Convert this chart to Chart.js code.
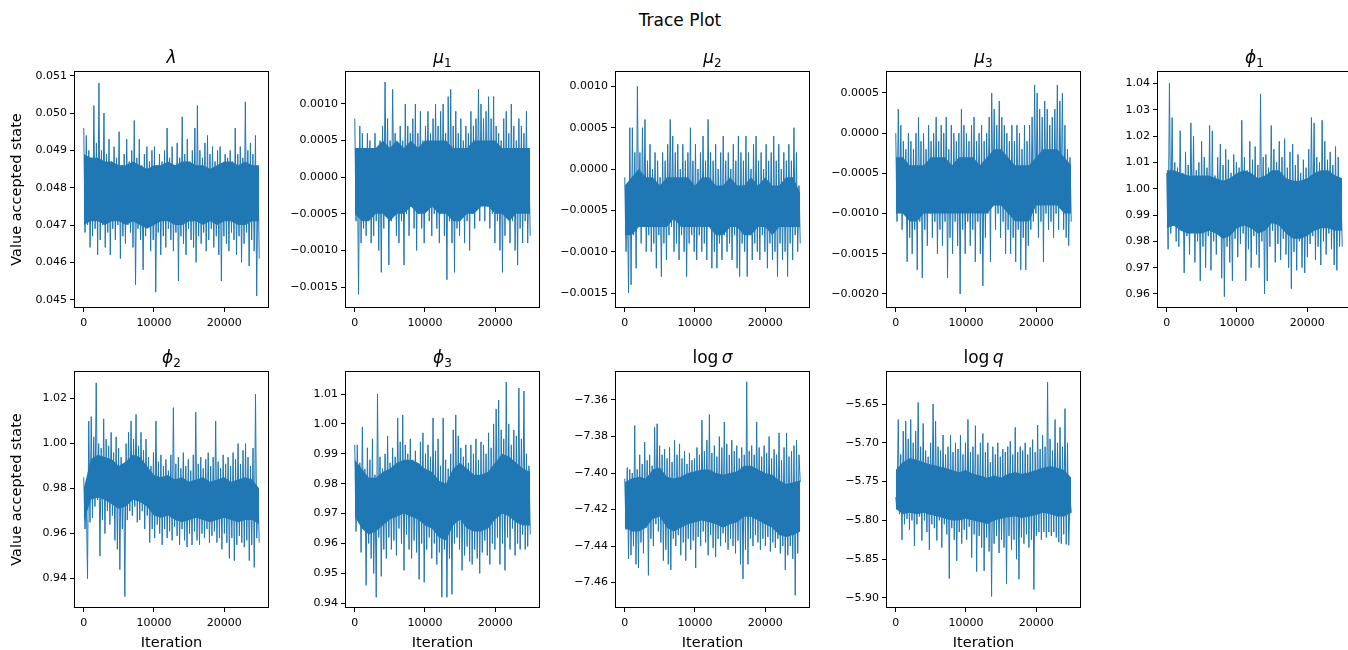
<!DOCTYPE html>
<html>
<head>
<meta charset="utf-8">
<title>Trace Plot</title>
<script src="https://cdn.jsdelivr.net/npm/chart.js@4.4.0/dist/chart.umd.min.js"></script>
<style>
  body { margin: 0; background: #fff; overflow: hidden; }
  #fig { position: relative; width: 1348px; height: 650px; overflow: hidden; background: #fff; }
  #fig canvas { position: absolute; }
  .suptitle {
    position: absolute; left: 0; top: 10px; width: 1360px;
    text-align: center; font: 17px "DejaVu Sans"; line-height: 20px; color: #000;
  }
</style>
</head>
<body>
<div id="fig"><div class="suptitle">Trace Plot</div></div>
<script>
// chain length and iteration axis ticks
const nIter = 25000;
const iterTicks = [0, 10000, 20000];

// sampled traces, alternating upper / lower excursions along the chain
const lambdaTrace = [
  0.0496, 0.0468, 0.0494, 0.0470, 0.0490, 0.0464, 0.0488, 0.0467, 0.0502, 0.0469,
  0.0492, 0.0462, 0.0508, 0.0466, 0.0490, 0.0470, 0.0500, 0.0464, 0.0489, 0.0468,
  0.0493, 0.0462, 0.0487, 0.0469, 0.0491, 0.0466, 0.0488, 0.0470, 0.0495, 0.0461,
  0.0486, 0.0467, 0.0489, 0.0465, 0.0493, 0.0470, 0.0487, 0.0468, 0.0490, 0.0464,
  0.0498, 0.0454, 0.0488, 0.0469, 0.0493, 0.0466, 0.0486, 0.0458, 0.0489, 0.0467,
  0.0491, 0.0470, 0.0487, 0.0463, 0.0490, 0.0466, 0.0491, 0.0452, 0.0486, 0.0468,
  0.0489, 0.0462, 0.0487, 0.0467, 0.0490, 0.0464, 0.0496, 0.0469, 0.0488, 0.0466,
  0.0491, 0.0463, 0.0486, 0.0468, 0.0492, 0.0455, 0.0488, 0.0467, 0.0499, 0.0465,
  0.0489, 0.0462, 0.0493, 0.0469, 0.0487, 0.0466, 0.0490, 0.0464, 0.0496, 0.0460,
  0.0502, 0.0467, 0.0490, 0.0465, 0.0488, 0.0468, 0.0492, 0.0463, 0.0494, 0.0466,
  0.0489, 0.0469, 0.0491, 0.0464, 0.0487, 0.0467, 0.0490, 0.0462, 0.0491, 0.0455,
  0.0486, 0.0467, 0.0489, 0.0465, 0.0488, 0.0463, 0.0490, 0.0468, 0.0487, 0.0466,
  0.0496, 0.0462, 0.0489, 0.0467, 0.0491, 0.0460, 0.0488, 0.0465, 0.0503, 0.0468,
  0.0490, 0.0459, 0.0492, 0.0466, 0.0489, 0.0463, 0.0494, 0.0451, 0.0485, 0.0461
];
const mu1Trace = [
  0.0008, -0.0006, 0.0003, -0.0016, 0.0007, -0.0009, 0.0006, -0.0007, 0.0004, -0.0008,
  0.0006, -0.0005, 0.0005, -0.0009, 0.0003, -0.0008, 0.0006, -0.0006, 0.0004, -0.0010,
  0.0005, -0.0013, 0.0007, -0.0007, 0.0013, -0.0004, 0.0008, -0.0012, 0.0005, -0.0006,
  0.0012, -0.0003, 0.0006, -0.0008, 0.0004, -0.0009, 0.0007, -0.0006, 0.0005, -0.0012,
  0.0010, -0.0005, 0.0007, -0.0008, 0.0006, -0.0004, 0.0008, -0.0007, 0.0010, -0.0010,
  0.0006, -0.0005, 0.0009, -0.0007, 0.0005, -0.0009, 0.0007, -0.0004, 0.0009, -0.0006,
  0.0006, -0.0008, 0.0008, -0.0005, 0.0010, -0.0007, 0.0007, -0.0009, 0.0009, -0.0004,
  0.0010, -0.0008, 0.0006, -0.0014, 0.0011, -0.0006, 0.0012, -0.0009, 0.0007, -0.0013,
  0.0009, -0.0007, 0.0006, -0.0008, 0.0008, -0.0005, 0.0005, -0.0009, 0.0007, -0.0006,
  0.0006, -0.0010, 0.0009, -0.0005, 0.0007, -0.0007, 0.0008, -0.0004, 0.0012, -0.0006,
  0.0010, -0.0003, 0.0008, -0.0006, 0.0009, -0.0004, 0.0011, -0.0007, 0.0008, -0.0005,
  0.0011, -0.0009, 0.0007, -0.0006, 0.0006, -0.0010, 0.0005, -0.0013, 0.0008, -0.0008,
  0.0009, -0.0005, 0.0006, -0.0009, 0.0010, -0.0006, 0.0007, -0.0010, 0.0005, -0.0012,
  0.0008, -0.0007, 0.0007, -0.0009, 0.0006, -0.0006, 0.0009, -0.0009, 0.0001, -0.0008
];
const mu2Trace = [
  -0.0001, -0.0010, -0.0003, -0.0015, 0.0005, -0.0014, 0.0005, -0.0008, 0.0002, -0.0012,
  0.0010, -0.0006, 0.0002, -0.0009, 0.0005, -0.0007, 0.0006, -0.0010, 0.0001, -0.0008,
  0.0003, -0.0010, 0.0000, -0.0009, 0.0002, -0.0012, 0.0001, -0.0008, -0.0001, -0.0013,
  0.0002, -0.0009, 0.0001, -0.0011, 0.0003, -0.0008, 0.0006, -0.0007, 0.0004, -0.0010,
  0.0002, -0.0009, 0.0003, -0.0011, 0.0000, -0.0008, 0.0003, -0.0010, 0.0001, -0.0013,
  0.0002, -0.0009, 0.0005, -0.0008, 0.0001, -0.0010, 0.0003, -0.0011, 0.0000, -0.0008,
  0.0002, -0.0010, 0.0004, -0.0009, 0.0001, -0.0011, 0.0006, -0.0007, 0.0002, -0.0012,
  0.0001, -0.0010, 0.0003, -0.0012, 0.0000, -0.0009, 0.0002, -0.0011, 0.0004, -0.0008,
  0.0001, -0.0010, 0.0002, -0.0009, 0.0000, -0.0011, 0.0003, -0.0008, 0.0001, -0.0012,
  0.0004, -0.0013, 0.0002, -0.0009, 0.0001, -0.0010, 0.0004, -0.0013, 0.0002, -0.0008,
  0.0000, -0.0011, 0.0003, -0.0009, 0.0004, -0.0010, 0.0001, -0.0011, 0.0002, -0.0008,
  0.0000, -0.0010, 0.0003, -0.0012, 0.0001, -0.0009, 0.0002, -0.0011, 0.0004, -0.0010,
  0.0001, -0.0013, 0.0003, -0.0009, 0.0000, -0.0011, 0.0002, -0.0010, 0.0001, -0.0013,
  0.0003, -0.0009, 0.0001, -0.0011, 0.0005, -0.0008, 0.0002, -0.0010, -0.0002, -0.0009
];
const mu3Trace = [
  0.0000, -0.0011, 0.0003, -0.0009, 0.0001, -0.0012, -0.0001, -0.0010, -0.0002, -0.0016,
  0.0000, -0.0013, -0.0001, -0.0015, -0.0002, -0.0012, 0.0000, -0.0017, 0.0002, -0.0011,
  -0.0001, -0.0018, 0.0000, -0.0012, -0.0002, -0.0014, 0.0001, -0.0010, -0.0001, -0.0013,
  0.0000, -0.0011, 0.0002, -0.0015, -0.0001, -0.0012, 0.0001, -0.0014, 0.0000, -0.0011,
  0.0002, -0.0018, -0.0002, -0.0013, 0.0001, -0.0015, 0.0000, -0.0011, -0.0001, -0.0014,
  0.0000, -0.0020, 0.0003, -0.0012, 0.0001, -0.0015, 0.0000, -0.0011, -0.0001, -0.0014,
  0.0001, -0.0012, 0.0002, -0.0016, -0.0001, -0.0011, 0.0000, -0.0015, 0.0001, -0.0019,
  -0.0001, -0.0013, 0.0000, -0.0010, 0.0002, -0.0016, 0.0005, -0.0009, 0.0003, -0.0012,
  0.0001, -0.0010, 0.0004, -0.0013, 0.0002, -0.0011, 0.0001, -0.0015, 0.0000, -0.0012,
  -0.0001, -0.0015, 0.0001, -0.0013, -0.0001, -0.0016, 0.0001, -0.0012, 0.0000, -0.0017,
  -0.0002, -0.0013, 0.0001, -0.0017, -0.0001, -0.0014, 0.0001, -0.0012, 0.0002, -0.0011,
  0.0006, -0.0010, 0.0005, -0.0013, 0.0003, -0.0011, 0.0002, -0.0016, 0.0004, -0.0010,
  0.0003, -0.0012, 0.0001, -0.0011, 0.0002, -0.0013, 0.0003, -0.0010, 0.0006, -0.0012,
  0.0004, -0.0009, 0.0005, -0.0012, 0.0001, -0.0013, -0.0002, -0.0014, -0.0003, -0.0011
];
const phi1Trace = [
  1.006, 0.977, 1.040, 0.983, 1.027, 0.986, 1.010, 0.980, 1.008, 0.978,
  1.022, 0.984, 1.006, 0.968, 1.014, 0.982, 1.009, 0.975, 1.025, 0.987,
  1.020, 0.972, 1.007, 0.980, 1.010, 0.965, 1.018, 0.978, 1.012, 0.970,
  1.008, 0.982, 1.024, 0.969, 1.022, 0.980, 1.005, 0.975, 1.012, 0.985,
  1.017, 0.966, 1.009, 0.959, 1.015, 0.978, 1.011, 0.972, 1.006, 0.965,
  1.013, 0.981, 1.010, 0.974, 1.008, 0.979, 1.026, 0.983, 1.012, 0.965,
  1.007, 0.977, 1.018, 0.970, 1.011, 0.982, 1.016, 0.975, 1.009, 0.970,
  1.036, 0.980, 1.012, 0.960, 1.013, 0.965, 1.008, 0.978, 1.024, 0.984,
  1.015, 0.972, 1.010, 0.979, 1.018, 0.973, 1.012, 0.981, 1.019, 0.975,
  1.008, 0.970, 1.014, 0.962, 1.017, 0.976, 1.009, 0.969, 1.013, 0.980,
  1.006, 0.970, 1.011, 0.968, 1.008, 0.974, 1.015, 0.979, 1.027, 0.982,
  1.025, 0.973, 1.012, 0.978, 1.010, 0.971, 1.026, 0.980, 1.018, 0.975,
  1.011, 0.983, 1.014, 0.977, 1.009, 0.971, 1.016, 0.969, 1.012, 0.978,
  1.000, 0.978
];
const phi2Trace = [
  0.985, 0.962, 0.978, 0.940, 1.010, 0.965, 1.012, 0.967, 1.003, 0.972,
  1.027, 0.975, 1.000, 0.950, 0.998, 0.966, 1.011, 0.960, 1.002, 0.970,
  0.999, 0.964, 1.005, 0.968, 0.996, 0.957, 1.003, 0.953, 0.998, 0.944,
  0.994, 0.962, 0.990, 0.932, 1.000, 0.966, 1.005, 0.970, 1.010, 0.968,
  1.002, 0.972, 1.013, 0.965, 0.999, 0.966, 1.005, 0.970, 0.997, 0.962,
  1.002, 0.968, 0.994, 0.956, 0.990, 0.962, 0.996, 0.958, 1.010, 0.964,
  0.992, 0.960, 0.995, 0.955, 0.990, 0.962, 0.993, 0.958, 0.988, 0.961,
  0.995, 0.957, 1.016, 0.963, 0.991, 0.959, 0.994, 0.955, 0.989, 0.962,
  0.996, 0.957, 0.990, 0.954, 0.993, 0.960, 0.988, 0.955, 0.995, 0.961,
  1.014, 0.957, 0.991, 0.955, 0.994, 0.960, 0.989, 0.958, 0.993, 0.962,
  0.996, 0.956, 0.990, 0.959, 0.994, 0.961, 1.010, 0.956, 0.992, 0.958,
  0.989, 0.953, 0.995, 0.960, 0.991, 0.956, 0.994, 0.949, 0.990, 0.958,
  0.996, 0.948, 0.993, 0.955, 1.000, 0.959, 0.991, 0.956, 0.997, 0.954,
  1.000, 0.957, 0.994, 0.948, 0.990, 0.955, 0.998, 0.945, 1.022, 0.958,
  0.978, 0.956
];
const phi3Trace = [
  0.993, 0.964, 0.993, 0.968, 0.987, 0.957, 0.999, 0.965, 0.985, 0.946,
  0.992, 0.960, 0.988, 0.955, 0.995, 0.950, 0.983, 0.942, 1.010, 0.962,
  0.989, 0.949, 0.985, 0.958, 0.990, 0.955, 0.996, 0.962, 0.987, 0.958,
  0.992, 0.961, 0.989, 0.956, 1.002, 0.965, 0.994, 0.960, 1.003, 0.951,
  0.993, 0.963, 0.990, 0.958, 0.995, 0.955, 0.988, 0.961, 0.991, 0.957,
  0.986, 0.948, 0.994, 0.960, 0.997, 0.947, 0.990, 0.958, 0.993, 0.962,
  0.989, 0.955, 1.002, 0.960, 0.991, 0.953, 0.995, 0.957, 0.986, 0.942,
  1.002, 0.958, 0.988, 0.942, 0.985, 0.955, 0.990, 0.943, 0.998, 0.960,
  1.003, 0.962, 0.996, 0.958, 0.992, 0.951, 0.989, 0.956, 0.993, 0.959,
  0.987, 0.954, 0.993, 0.953, 0.990, 0.958, 0.995, 0.955, 0.988, 0.950,
  0.994, 0.957, 0.993, 0.961, 0.990, 0.956, 0.997, 0.953, 0.992, 0.960,
  1.000, 0.958, 1.005, 0.962, 1.008, 0.953, 0.998, 0.960, 0.995, 0.951,
  1.014, 0.962, 1.000, 0.958, 0.993, 0.965, 0.998, 0.956, 0.996, 0.960,
  1.012, 0.958, 0.995, 0.963, 1.011, 0.958, 0.990, 0.959, 0.986, 0.963
];
const logSigmaTrace = [
  -7.403, -7.431, -7.397, -7.447, -7.398, -7.445, -7.400, -7.440, -7.374, -7.450,
  -7.398, -7.452, -7.390, -7.438, -7.395, -7.444, -7.383, -7.430, -7.393, -7.456,
  -7.390, -7.436, -7.396, -7.440, -7.375, -7.428, -7.373, -7.432, -7.385, -7.438,
  -7.390, -7.448, -7.387, -7.442, -7.392, -7.450, -7.386, -7.453, -7.394, -7.436,
  -7.382, -7.440, -7.390, -7.434, -7.384, -7.445, -7.392, -7.438, -7.388, -7.448,
  -7.395, -7.436, -7.389, -7.442, -7.393, -7.437, -7.392, -7.452, -7.386, -7.435,
  -7.390, -7.440, -7.371, -7.432, -7.388, -7.438, -7.382, -7.445, -7.368, -7.434,
  -7.389, -7.441, -7.385, -7.446, -7.391, -7.436, -7.380, -7.440, -7.386, -7.433,
  -7.372, -7.438, -7.384, -7.442, -7.390, -7.436, -7.382, -7.440, -7.388, -7.444,
  -7.385, -7.437, -7.392, -7.450, -7.386, -7.458, -7.390, -7.442, -7.350, -7.450,
  -7.388, -7.436, -7.385, -7.440, -7.390, -7.434, -7.372, -7.438, -7.386, -7.442,
  -7.391, -7.436, -7.385, -7.440, -7.389, -7.435, -7.380, -7.443, -7.392, -7.438,
  -7.387, -7.441, -7.390, -7.436, -7.378, -7.444, -7.393, -7.440, -7.386, -7.453,
  -7.378, -7.445, -7.391, -7.440, -7.388, -7.447, -7.385, -7.467, -7.382, -7.444,
  -7.390, -7.405
];
const logQTrace = [
  -5.770, -5.786, -5.670, -5.792, -5.715, -5.825, -5.685, -5.805, -5.672, -5.798,
  -5.695, -5.812, -5.670, -5.800, -5.700, -5.833, -5.685, -5.805, -5.648, -5.795,
  -5.705, -5.826, -5.675, -5.800, -5.710, -5.815, -5.718, -5.838, -5.700, -5.805,
  -5.650, -5.810, -5.672, -5.826, -5.705, -5.800, -5.710, -5.835, -5.690, -5.805,
  -5.715, -5.818, -5.705, -5.875, -5.690, -5.810, -5.712, -5.825, -5.700, -5.852,
  -5.708, -5.815, -5.690, -5.830, -5.715, -5.812, -5.700, -5.825, -5.670, -5.808,
  -5.712, -5.848, -5.705, -5.818, -5.678, -5.866, -5.715, -5.820, -5.700, -5.835,
  -5.688, -5.865, -5.712, -5.822, -5.700, -5.840, -5.725, -5.898, -5.705, -5.830,
  -5.715, -5.820, -5.700, -5.842, -5.718, -5.825, -5.708, -5.835, -5.712, -5.882,
  -5.705, -5.820, -5.698, -5.838, -5.715, -5.825, -5.680, -5.850, -5.712, -5.876,
  -5.705, -5.822, -5.710, -5.830, -5.700, -5.818, -5.715, -5.835, -5.706, -5.825,
  -5.696, -5.889, -5.712, -5.820, -5.677, -5.815, -5.708, -5.825, -5.690, -5.815,
  -5.705, -5.822, -5.622, -5.815, -5.695, -5.820, -5.710, -5.815, -5.670, -5.822,
  -5.700, -5.828, -5.680, -5.830, -5.705, -5.818, -5.656, -5.831, -5.700, -5.832,
  -5.770, -5.790
];

// densely visited range of each chain, every 1000 iterations (upper, lower)
const lambdaCoreHi = [0.0489, 0.0488, 0.0488, 0.0487, 0.0487, 0.0486, 0.0486, 0.0487, 0.0486, 0.0485, 0.0486, 0.0486, 0.0487,
  0.0486, 0.0487, 0.0487, 0.0486, 0.0486, 0.0485, 0.0486, 0.0487, 0.0487, 0.0486, 0.0487, 0.0486, 0.0486];
const lambdaCoreLo = [0.0470, 0.0471, 0.0471, 0.0470, 0.0471, 0.0471, 0.0470, 0.0471, 0.0470, 0.0469, 0.0470, 0.0471, 0.0471,
  0.0470, 0.0470, 0.0471, 0.0471, 0.0470, 0.0471, 0.0470, 0.0471, 0.0471, 0.0470, 0.0470, 0.0471, 0.0471];
const mu1CoreHi = [0.0004, 0.0004, 0.0004, 0.0004, 0.0005, 0.0004, 0.0005, 0.0004, 0.0005, 0.0004, 0.0005, 0.0005, 0.0005,
  0.0005, 0.0004, 0.0004, 0.0004, 0.0005, 0.0005, 0.0005, 0.0005, 0.0004, 0.0004, 0.0004, 0.0004, 0.0004];
const mu1CoreLo = [-0.0005, -0.0006, -0.0006, -0.0005, -0.0005, -0.0006, -0.0005, -0.0005, -0.0004, -0.0005, -0.0005, -0.0004, -0.0005,
  -0.0005, -0.0006, -0.0006, -0.0005, -0.0005, -0.0004, -0.0004, -0.0005, -0.0005, -0.0006, -0.0005, -0.0005, -0.0005];
const mu2CoreHi = [-0.0002, -0.0001, 0.0000, -0.0001, -0.0001, -0.0002, -0.0001, -0.0001, -0.0001, -0.0001, -0.0002, -0.0001, -0.0001,
  -0.0002, -0.0002, -0.0001, -0.0002, -0.0002, -0.0001, -0.0002, -0.0001, -0.0002, -0.0002, -0.0001, -0.0001, -0.0003];
const mu2CoreLo = [-0.0008, -0.0008, -0.0007, -0.0007, -0.0007, -0.0007, -0.0007, -0.0006, -0.0007, -0.0007, -0.0007, -0.0007, -0.0007,
  -0.0008, -0.0008, -0.0007, -0.0007, -0.0008, -0.0008, -0.0007, -0.0007, -0.0008, -0.0007, -0.0007, -0.0007, -0.0007];
const mu3CoreHi = [-0.0003, -0.0003, -0.0004, -0.0004, -0.0004, -0.0003, -0.0003, -0.0003, -0.0004, -0.0003, -0.0003, -0.0003, -0.0004,
  -0.0003, -0.0002, -0.0002, -0.0003, -0.0004, -0.0004, -0.0004, -0.0003, -0.0002, -0.0002, -0.0002, -0.0003, -0.0004];
const mu3CoreLo = [-0.0010, -0.0010, -0.0011, -0.0011, -0.0010, -0.0010, -0.0010, -0.0010, -0.0010, -0.0010, -0.0010, -0.0010, -0.0010,
  -0.0010, -0.0009, -0.0009, -0.0010, -0.0011, -0.0011, -0.0011, -0.0009, -0.0009, -0.0009, -0.0009, -0.0010, -0.0010];
const phi1CoreHi = [1.007, 1.007, 1.006, 1.005, 1.005, 1.005, 1.005, 1.004, 1.003, 1.004, 1.006, 1.007, 1.006,
  1.004, 1.005, 1.007, 1.007, 1.004, 1.003, 1.003, 1.004, 1.006, 1.007, 1.007, 1.005, 1.004];
const phi1CoreLo = [0.985, 0.986, 0.984, 0.983, 0.983, 0.983, 0.984, 0.983, 0.981, 0.982, 0.985, 0.986, 0.985,
  0.983, 0.984, 0.987, 0.986, 0.983, 0.981, 0.981, 0.982, 0.984, 0.985, 0.985, 0.984, 0.984];
const phi2CoreHi = [0.980, 0.993, 0.995, 0.994, 0.993, 0.990, 0.992, 0.995, 0.994, 0.990, 0.986, 0.985, 0.986,
  0.984, 0.985, 0.983, 0.984, 0.985, 0.983, 0.984, 0.985, 0.983, 0.984, 0.985, 0.984, 0.980];
const phi2CoreLo = [0.965, 0.975, 0.976, 0.975, 0.973, 0.971, 0.972, 0.975, 0.974, 0.972, 0.968, 0.967, 0.968,
  0.966, 0.965, 0.966, 0.967, 0.966, 0.965, 0.966, 0.967, 0.966, 0.965, 0.966, 0.966, 0.964];
const phi3CoreHi = [0.988, 0.985, 0.982, 0.982, 0.984, 0.985, 0.987, 0.988, 0.988, 0.987, 0.985, 0.984, 0.981,
  0.980, 0.985, 0.987, 0.985, 0.983, 0.983, 0.984, 0.987, 0.990, 0.989, 0.987, 0.985, 0.984];
const phi3CoreLo = [0.969, 0.965, 0.963, 0.964, 0.966, 0.968, 0.969, 0.970, 0.969, 0.968, 0.966, 0.965, 0.962,
  0.961, 0.966, 0.968, 0.965, 0.964, 0.964, 0.965, 0.968, 0.970, 0.969, 0.967, 0.966, 0.966];
const logSigmaCoreHi = [-7.405, -7.403, -7.402, -7.403, -7.398, -7.397, -7.402, -7.403, -7.402, -7.400, -7.399, -7.398, -7.398,
  -7.400, -7.401, -7.400, -7.399, -7.396, -7.396, -7.398, -7.400, -7.401, -7.404, -7.406, -7.405, -7.404];
const logSigmaCoreLo = [-7.430, -7.432, -7.432, -7.430, -7.425, -7.424, -7.430, -7.432, -7.430, -7.428, -7.427, -7.426, -7.427,
  -7.428, -7.430, -7.428, -7.427, -7.424, -7.424, -7.426, -7.428, -7.430, -7.434, -7.435, -7.434, -7.432];
const logQCoreHi = [-5.735, -5.725, -5.720, -5.722, -5.725, -5.728, -5.730, -5.732, -5.735, -5.738, -5.735, -5.740, -5.742,
  -5.745, -5.742, -5.745, -5.740, -5.738, -5.740, -5.738, -5.735, -5.732, -5.730, -5.732, -5.735, -5.745];
const logQCoreLo = [-5.785, -5.792, -5.790, -5.792, -5.790, -5.793, -5.795, -5.798, -5.800, -5.800, -5.798, -5.800, -5.802,
  -5.805, -5.800, -5.798, -5.796, -5.795, -5.797, -5.795, -5.793, -5.790, -5.792, -5.795, -5.795, -5.790];

// value axis ticks per parameter
const lambdaTicks = [0.045, 0.046, 0.047, 0.048, 0.049, 0.050, 0.051];
const mu1Ticks = [-0.0015, -0.0010, -0.0005, 0.0, 0.0005, 0.0010];
const mu2Ticks = [-0.0015, -0.0010, -0.0005, 0.0, 0.0005, 0.0010];
const mu3Ticks = [-0.0020, -0.0015, -0.0010, -0.0005, 0.0, 0.0005];
const phi1Ticks = [0.96, 0.97, 0.98, 0.99, 1.00, 1.01, 1.02, 1.03, 1.04];
const phi2Ticks = [0.94, 0.96, 0.98, 1.00, 1.02];
const phi3Ticks = [0.94, 0.95, 0.96, 0.97, 0.98, 0.99, 1.00, 1.01];
const logSigmaTicks = [-7.46, -7.44, -7.42, -7.40, -7.38, -7.36];
const logQTicks = [-5.90, -5.85, -5.80, -5.75, -5.70, -5.65];

// subplot geometry (pixels): plot box size, and room around it on each canvas
const AX_W = 193, AX_H = 235;
const PAD_L = 75, PAD_T = 40, PAD_R = 6, PAD_B = 45;
const LINE_COLOR = '#1f77b4';

const panels = [
  { trace: lambdaTrace, hi: lambdaCoreHi, lo: lambdaCoreLo, ticks: lambdaTicks, min: 0.044804, max: 0.051099, dp: 3,
    title: [['λ', 'i']], left: 75, top: 72, ylabel: true },
  { trace: mu1Trace, hi: mu1CoreHi, lo: mu1CoreLo, ticks: mu1Ticks, min: -0.001773, max: 0.001437, dp: 4,
    title: [['μ', 'i'], ['1', 's']], left: 346, top: 72 },
  { trace: mu2Trace, hi: mu2CoreHi, lo: mu2CoreLo, ticks: mu2Ticks, min: -0.001669, max: 0.001174, dp: 4,
    title: [['μ', 'i'], ['2', 's']], left: 616, top: 72 },
  { trace: mu3Trace, hi: mu3CoreHi, lo: mu3CoreLo, ticks: mu3Ticks, min: -0.002162, max: 0.000761, dp: 4,
    title: [['μ', 'i'], ['3', 's']], left: 887, top: 72 },
  { trace: phi1Trace, hi: phi1CoreHi, lo: phi1CoreLo, ticks: phi1Ticks, min: 0.95506, max: 1.04433, dp: 2,
    title: [['ϕ', 'i'], ['1', 's']], left: 1158, top: 72 },
  { trace: phi2Trace, hi: phi2CoreHi, lo: phi2CoreLo, ticks: phi2Ticks, min: 0.92738, max: 1.03182, dp: 2,
    title: [['ϕ', 'i'], ['2', 's']], left: 75, top: 372, ylabel: true, xlabel: true },
  { trace: phi3Trace, hi: phi3CoreHi, lo: phi3CoreLo, ticks: phi3Ticks, min: 0.93876, max: 1.01736, dp: 2,
    title: [['ϕ', 'i'], ['3', 's']], left: 346, top: 372, xlabel: true },
  { trace: logSigmaTrace, hi: logSigmaCoreHi, lo: logSigmaCoreLo, ticks: logSigmaTicks, min: -7.47336, max: -7.34467, dp: 2,
    title: [['log', 'r'], ['\u2009', 'r'], ['σ', 'i']], left: 616, top: 372, xlabel: true },
  { trace: logQTrace, hi: logQCoreHi, lo: logQCoreLo, ticks: logQTicks, min: -5.9116, max: -5.60876, dp: 2,
    title: [['log', 'r'], ['\u2009', 'r'], ['q', 'i']], left: 887, top: 372, xlabel: true }
];

Chart.defaults.font.family = '"DejaVu Sans", sans-serif';
Chart.defaults.color = '#000';

const FONT = '"DejaVu Sans", sans-serif';
const titleFonts = { i: 'italic 17px ' + FONT, r: '17px ' + FONT, s: '12px ' + FONT };

function fmtTick(v, dp) {
  return v.toFixed(dp).replace('-', '\u2212');
}

function toPoints(values) {
  const step = nIter / (values.length - 1);
  return values.map((v, i) => ({ x: i * step, y: v }));
}

function drawTitle(ctx, parts, cx, baseline) {
  let total = 0;
  parts.forEach(([t, s]) => { ctx.font = titleFonts[s]; total += ctx.measureText(t).width; });
  let x = cx - total / 2;
  ctx.textAlign = 'left';
  ctx.textBaseline = 'alphabetic';
  parts.forEach(([t, s]) => {
    ctx.font = titleFonts[s];
    ctx.fillText(t, x, baseline + (s === 's' ? 4 : 0));
    x += ctx.measureText(t).width;
  });
}

// frame, subplot title and axis labels
const panelDecor = {
  id: 'panelDecor',
  afterDraw(chart, args, opts) {
    const { ctx, chartArea: a } = chart;
    ctx.save();
    ctx.strokeStyle = '#000';
    ctx.lineWidth = 1;
    ctx.strokeRect(Math.round(a.left) - 0.5, Math.round(a.top) - 0.5,
      Math.round(a.right - a.left) + 1, Math.round(a.bottom - a.top) + 1);
    ctx.fillStyle = '#000';
    drawTitle(ctx, opts.title, (a.left + a.right) / 2, a.top - 9.5);
    if (opts.xlabel) {
      ctx.font = '14.5px ' + FONT;
      ctx.textAlign = 'center';
      ctx.textBaseline = 'alphabetic';
      ctx.fillText('Iteration', (a.left + a.right) / 2, a.bottom + 40);
    }
    if (opts.ylabel) {
      ctx.translate(a.left - 58, (a.top + a.bottom) / 2);
      ctx.rotate(-Math.PI / 2);
      ctx.font = '14.5px ' + FONT;
      ctx.textAlign = 'center';
      ctx.textBaseline = 'middle';
      ctx.fillText('Value accepted state', 0, 0);
    }
    ctx.restore();
  }
};

const fig = document.getElementById('fig');

panels.forEach(p => {
  const canvas = document.createElement('canvas');
  canvas.width = PAD_L + AX_W + PAD_R;
  canvas.height = PAD_T + AX_H + PAD_B;
  canvas.style.left = (p.left - PAD_L) + 'px';
  canvas.style.top = (p.top - PAD_T) + 'px';
  fig.appendChild(canvas);

  new Chart(canvas, {
    type: 'line',
    data: {
      datasets: [
        {
          // sampled chain
          data: toPoints(p.trace),
          borderColor: LINE_COLOR,
          borderWidth: 1,
          pointRadius: 0,
          tension: 0,
          fill: false,
          order: 0
        },
        {
          // dense core of the chain, filled down to the lower edge
          data: toPoints(p.hi),
          borderWidth: 0,
          pointRadius: 0,
          backgroundColor: LINE_COLOR,
          fill: '+1',
          order: 1
        },
        {
          data: toPoints(p.lo),
          borderWidth: 0,
          pointRadius: 0,
          fill: false,
          order: 2
        }
      ]
    },
    options: {
      responsive: false,
      animation: false,
      events: [],
      parsing: false,
      layout: { padding: { top: PAD_T, right: PAD_R, left: 0, bottom: 0 } },
      plugins: {
        legend: { display: false },
        tooltip: { enabled: false },
        panelDecor: { title: p.title, xlabel: !!p.xlabel, ylabel: !!p.ylabel }
      },
      scales: {
        x: {
          type: 'linear',
          min: -0.05 * nIter,
          max: 1.05 * nIter,
          afterFit: s => { s.height = PAD_B; },
          afterBuildTicks: s => { s.ticks = iterTicks.map(v => ({ value: v })); },
          grid: { drawOnChartArea: false, color: '#000', tickLength: 5 },
          border: { display: false },
          ticks: {
            autoSkip: false, maxRotation: 0, padding: 5,
            font: { size: 11 }, color: '#000',
            callback: v => String(v)
          }
        },
        y: {
          type: 'linear',
          min: p.min,
          max: p.max,
          afterFit: s => { s.width = PAD_L; },
          afterBuildTicks: s => { s.ticks = p.ticks.map(v => ({ value: v })); },
          grid: { drawOnChartArea: false, color: '#000', tickLength: 5 },
          border: { display: false },
          ticks: {
            autoSkip: false, padding: 3,
            font: { size: 11 }, color: '#000',
            callback: v => fmtTick(v, p.dp)
          }
        }
      }
    },
    plugins: [panelDecor]
  });
});
</script>
</body>
</html>
